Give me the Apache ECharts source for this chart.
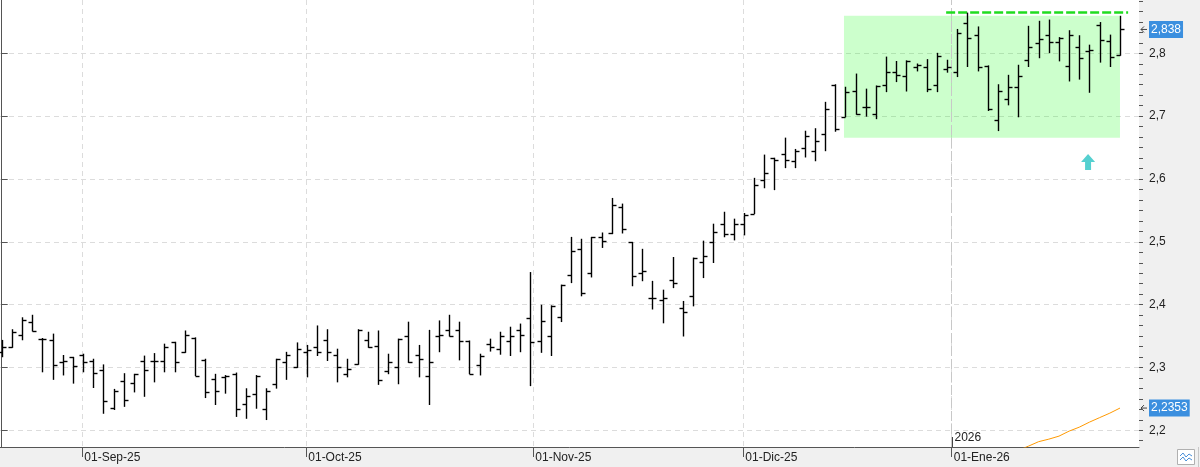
<!DOCTYPE html>
<html>
<head>
<meta charset="utf-8">
<script src="https://cdn.jsdelivr.net/npm/echarts@6/dist/echarts.min.js"></script>
<style>
html, body { margin: 0; padding: 0; background: #f0f0f0; }
#distribution_map { width: 1200px; height: 467px; }
</style>
</head>
<body>
<div id="distribution_map"></div>
<script>
// barras OHLC diarias (indice 0 = 21-ago-25 aprox.)
var openV = [2.325,2.332,2.351,2.373,2.345,2.343,2.308,2.316,2.319,2.311,2.296,2.235,2.278,2.275,2.310,2.311,2.311,2.340,2.324,2.347,
    2.312,2.281,2.284,2.290,2.241,2.258,2.233,2.273,2.309,2.300,2.325,2.332,2.343,2.319,2.290,2.305,2.344,2.334,2.295,2.300,
    2.350,2.320,2.286,2.350,2.359,2.359,2.342,2.304,2.337,2.329,2.342,2.360,2.379,2.342,2.350,2.381,2.447,2.488,2.450,2.508,
    2.514,2.555,2.499,2.450,2.411,2.407,2.439,2.394,2.413,2.468,2.499,2.529,2.512,2.529,2.545,2.599,2.633,2.639,2.628,2.649,
    2.644,2.671,2.750,2.699,2.740,2.715,2.703,2.750,2.770,2.764,2.779,2.778,2.750,2.775,2.770,2.849,2.829,2.780,2.694,2.727,
    2.746,2.789,2.816,2.829,2.818,2.780,2.810,2.803,2.845,2.820,2.797];
var highV = [2.343,2.360,2.379,2.383,2.346,2.353,2.319,2.316,2.321,2.313,2.304,2.265,2.290,2.289,2.318,2.322,2.337,2.340,2.358,2.347,
    2.313,2.289,2.287,2.291,2.266,2.287,2.266,2.313,2.324,2.339,2.335,2.366,2.360,2.329,2.313,2.360,2.356,2.358,2.321,2.345,
    2.372,2.335,2.359,2.374,2.383,2.372,2.342,2.321,2.345,2.356,2.364,2.369,2.451,2.399,2.398,2.431,2.507,2.504,2.507,2.514,
    2.569,2.560,2.499,2.488,2.437,2.423,2.475,2.405,2.474,2.501,2.528,2.547,2.536,2.545,2.601,2.638,2.633,2.665,2.647,2.676,
    2.680,2.722,2.750,2.746,2.767,2.743,2.748,2.794,2.787,2.788,2.783,2.790,2.800,2.789,2.838,2.864,2.842,2.780,2.750,2.765,
    2.781,2.843,2.851,2.853,2.825,2.836,2.828,2.813,2.849,2.829,2.859];
var lowV = [2.317,2.332,2.344,2.358,2.293,2.281,2.288,2.275,2.293,2.268,2.227,2.233,2.238,2.261,2.254,2.277,2.293,2.293,2.324,2.287,
    2.252,2.241,2.259,2.222,2.219,2.235,2.217,2.267,2.281,2.300,2.285,2.319,2.311,2.277,2.285,2.305,2.332,2.273,2.290,2.274,
    2.308,2.285,2.241,2.325,2.350,2.312,2.290,2.288,2.326,2.321,2.319,2.325,2.271,2.324,2.319,2.373,2.435,2.414,2.444,2.491,
    2.513,2.514,2.430,2.438,2.393,2.371,2.427,2.350,2.398,2.443,2.467,2.508,2.503,2.511,2.545,2.586,2.583,2.618,2.618,2.635,
    2.629,2.645,2.676,2.699,2.703,2.700,2.696,2.739,2.755,2.740,2.772,2.739,2.739,2.770,2.763,2.779,2.772,2.709,2.677,2.718,
    2.699,2.779,2.793,2.801,2.788,2.756,2.759,2.738,2.786,2.779,2.797];
var closeV = [2.333,2.357,2.375,2.358,2.345,2.304,2.311,2.302,2.309,2.291,2.247,2.263,2.248,2.289,2.296,2.311,2.333,2.309,2.352,2.287,
    2.261,2.262,2.286,2.233,2.255,2.286,2.263,2.313,2.320,2.329,2.327,2.324,2.324,2.301,2.297,2.360,2.333,2.280,2.308,2.345,
    2.308,2.313,2.308,2.351,2.350,2.342,2.290,2.318,2.333,2.350,2.350,2.351,2.340,2.374,2.397,2.431,2.485,2.419,2.507,2.501,
    2.558,2.520,2.445,2.453,2.411,2.410,2.435,2.389,2.474,2.477,2.516,2.512,2.529,2.543,2.591,2.610,2.630,2.630,2.645,2.669,
    2.660,2.711,2.679,2.738,2.703,2.714,2.748,2.770,2.765,2.787,2.781,2.743,2.795,2.778,2.832,2.825,2.778,2.711,2.740,2.746,
    2.764,2.810,2.823,2.818,2.825,2.829,2.792,2.805,2.821,2.794,2.838];

// media móvil (naranja), desde la barra 100
var maStart = 100;
var maValues = [2.168,2.1747,2.1818,2.1858,2.1906,2.1986,2.2049,2.2129,2.2201,2.2272,2.2353];

// eje X: inicio de cada mes (posición en barras)
var monthPos = [7.93, 29.96, 52.29, 72.95, 93.45];
var monthLabels = ['01-Sep-25', '01-Oct-25', '01-Nov-25', '01-Dic-25', '01-Ene-26'];
var yearPos = 93.45;
var yearLabel = '2026';

// eje Y
var yTicks = [2.2, 2.3, 2.4, 2.5, 2.6, 2.7, 2.8];
var yMin = 2.1733, yMax = 2.8849;
var xMin = -0.167, xMax = 111.87;

// zona verde, línea de resistencia y flecha
var zoneX = [82.85, 110];
var zoneY = [2.6656, 2.86];
var resistX = [92.9, 110.8];
var resistY = 2.865;
var arrowPoint = [106.86, 2.627];

var minorTicks = [];
for (var t = 2.1833; t < yMax; t += 0.1 / 6) minorTicks.push(+t.toFixed(4));

var ohlc = [];
for (var i = 0; i < openV.length; i++) {
    ohlc.push([i, openV[i], highV[i], lowV[i], closeV[i]]);
}
var maData = [];
for (var k = 0; k < maValues.length; k++) {
    maData.push([maStart + k, maValues[k]]);
}

function comma(v, d) {
    return v.toFixed(d).replace('.', ',');
}

function drawBar(params, api) {
    var i = api.value(0);
    var o = api.coord([i, api.value(1)]);
    var h = api.coord([i, api.value(2)]);
    var l = api.coord([i, api.value(3)]);
    var c = api.coord([i, api.value(4)]);
    var x = Math.round(o[0]) + 0.5;
    var st = {stroke: '#000', lineWidth: 1.4};
    return {
        type: 'group',
        children: [
            {type: 'line', shape: {x1: x, y1: h[1] - 0.5, x2: x, y2: l[1] + 0.5}, style: st},
            {type: 'line', shape: {x1: x - 4, y1: Math.round(o[1]) + 0.5, x2: x, y2: Math.round(o[1]) + 0.5}, style: st},
            {type: 'line', shape: {x1: x, y1: Math.round(c[1]) + 0.5, x2: x + 4, y2: Math.round(c[1]) + 0.5}, style: st}
        ]
    };
}

var myChart = echarts.init(document.getElementById('distribution_map'));
var font = 'Liberation Sans, Arial, sans-serif';

var option = {
    animation: false,
    backgroundColor: '#f0f0f0',
    textStyle: {fontFamily: font},
    grid: {
        left: 0, right: 61, top: 0, bottom: 20,
        show: true, backgroundColor: '#fff', borderWidth: 0,
        outerBoundsMode: 'none'
    },
    xAxis: {
        type: 'value',
        min: xMin,
        max: xMax,
        axisLine: {show: true, onZero: false, lineStyle: {color: '#555'}},
        axisTick: {show: true, length: 10, customValues: monthPos, lineStyle: {color: '#555'}},
        axisLabel: {
            customValues: monthPos,
            hideOverlap: false,
            align: 'left',
            margin: 5,
            padding: [0, 0, 0, 2],
            color: '#222',
            fontSize: 12,
            fontFamily: font,
            formatter: function (v) {
                var best = 0;
                for (var j = 1; j < monthPos.length; j++) {
                    if (Math.abs(monthPos[j] - v) < Math.abs(monthPos[best] - v)) best = j;
                }
                return monthLabels[best];
            }
        },
        splitLine: {show: true, lineStyle: {color: '#dcdcdc', type: [5, 4]}}
    },
    yAxis: [
        {
            type: 'value',
            position: 'right',
            min: yMin,
            max: yMax,
            axisLine: {show: true, lineStyle: {color: '#555'}},
            axisTick: {show: true, length: 6, customValues: yTicks, lineStyle: {color: '#555'}},
            axisLabel: {
                customValues: yTicks,
                hideOverlap: false,
                margin: 10,
                color: '#222',
                fontSize: 12,
                fontFamily: font,
                formatter: function (v) { return comma(v, 1); }
            },
            splitLine: {show: true, lineStyle: {color: '#dcdcdc', type: [5, 4]}}
        },
        {
            type: 'value',
            position: 'right',
            min: yMin,
            max: yMax,
            axisLine: {show: false},
            axisTick: {show: true, length: 4, customValues: minorTicks, lineStyle: {color: '#555'}},
            axisLabel: {show: false},
            splitLine: {show: false}
        }
    ],
    series: [
        {
            name: 'zona',
            type: 'line',
            data: [],
            markArea: {
                silent: true,
                itemStyle: {color: 'rgba(0,255,0,0.2)'},
                data: [[{coord: [zoneX[0], zoneY[0]]}, {coord: [zoneX[1], zoneY[1]]}]]
            },
            markLine: {
                silent: true,
                symbol: 'none',
                label: {show: false},
                data: [
                    [{coord: [yearPos, yMin], lineStyle: {color: '#c8c8c8', type: [10, 3], width: 1}},
                     {coord: [yearPos, yMax]}],
                    [{coord: [resistX[0], resistY], lineStyle: {color: '#1fdc1f', type: [9, 3], width: 2.5}},
                     {coord: [resistX[1], resistY]}]
                ]
            }
        },
        {
            name: 'precio',
            type: 'custom',
            renderItem: drawBar,
            encode: {x: 0, y: [1, 2, 3, 4]},
            data: ohlc,
            z: 5
        },
        {
            name: 'media',
            type: 'line',
            data: maData,
            showSymbol: false,
            clip: true,
            lineStyle: {color: '#ff9900', width: 1},
            z: 4
        },
        {
            name: 'senal',
            type: 'scatter',
            data: [arrowPoint],
            symbol: 'path://M7,0 L14,8 L10,8 L10,16 L4,16 L4,8 L0,8 Z',
            symbolSize: [14, 16],
            itemStyle: {color: '#2bc4c4'},
            z: 6
        }
    ]
};

myChart.setOption(option);

// marcas del eje derecho y año
var xr = 1139;
var yLast = myChart.convertToPixel({yAxisIndex: 0}, closeV[closeV.length - 1]);
var yMa = myChart.convertToPixel({yAxisIndex: 0}, maValues[maValues.length - 1]);
var xYear = Math.round(myChart.convertToPixel({xAxisIndex: 0}, yearPos)) + 0.5;
var yBottom = myChart.convertToPixel({yAxisIndex: 0}, yMin);

function priceTag(y, text) {
    return [
        {type: 'polyline', shape: {points: [[xr + 2, y], [xr + 8, y]]}, style: {stroke: '#444', lineWidth: 1}},
        {type: 'polyline', shape: {points: [[xr + 5, y - 3], [xr + 2, y], [xr + 5, y + 3]]}, style: {stroke: '#444', lineWidth: 1, fill: null}},
        {type: 'text', x: xr + 10, y: y, style: {
            text: text, fill: '#fff', font: '12px ' + font, verticalAlign: 'middle',
            backgroundColor: '#3b8fdf', padding: [3, 2, 2, 2]
        }}
    ];
}

myChart.setOption({
    graphic: [].concat(
        priceTag(yLast, comma(closeV[closeV.length - 1], 3)),
        priceTag(yMa, comma(maValues[maValues.length - 1], 4)),
        [
            {type: 'line', shape: {x1: xYear, y1: yBottom - 10, x2: xYear, y2: yBottom}, style: {stroke: '#444', lineWidth: 1}, z: 10},
            {type: 'text', x: xYear + 2, y: yBottom - 3, style: {text: yearLabel, fill: '#222', font: '12px ' + font, verticalAlign: 'bottom'}, z: 10},
            {type: 'rect', shape: {x: 1177.5, y: 449.5, width: 17, height: 15}, style: {fill: '#fff', stroke: '#b0b0b0', lineWidth: 1}},
            {type: 'polyline', shape: {points: [[1180, 456], [1183, 453], [1186, 457], [1189, 454], [1192, 456]]}, style: {stroke: '#4a8fd8', lineWidth: 1, fill: null}},
            {type: 'polyline', shape: {points: [[1180, 460], [1183, 457], [1186, 461], [1189, 458], [1192, 460]]}, style: {stroke: '#4a8fd8', lineWidth: 1, fill: null}},
            {type: 'line', shape: {x1: 1198.5, y1: 447, x2: 1198.5, y2: 467}, style: {stroke: '#c8c8c8', lineWidth: 1}}
        ]
    )
});
</script>
</body>
</html>
